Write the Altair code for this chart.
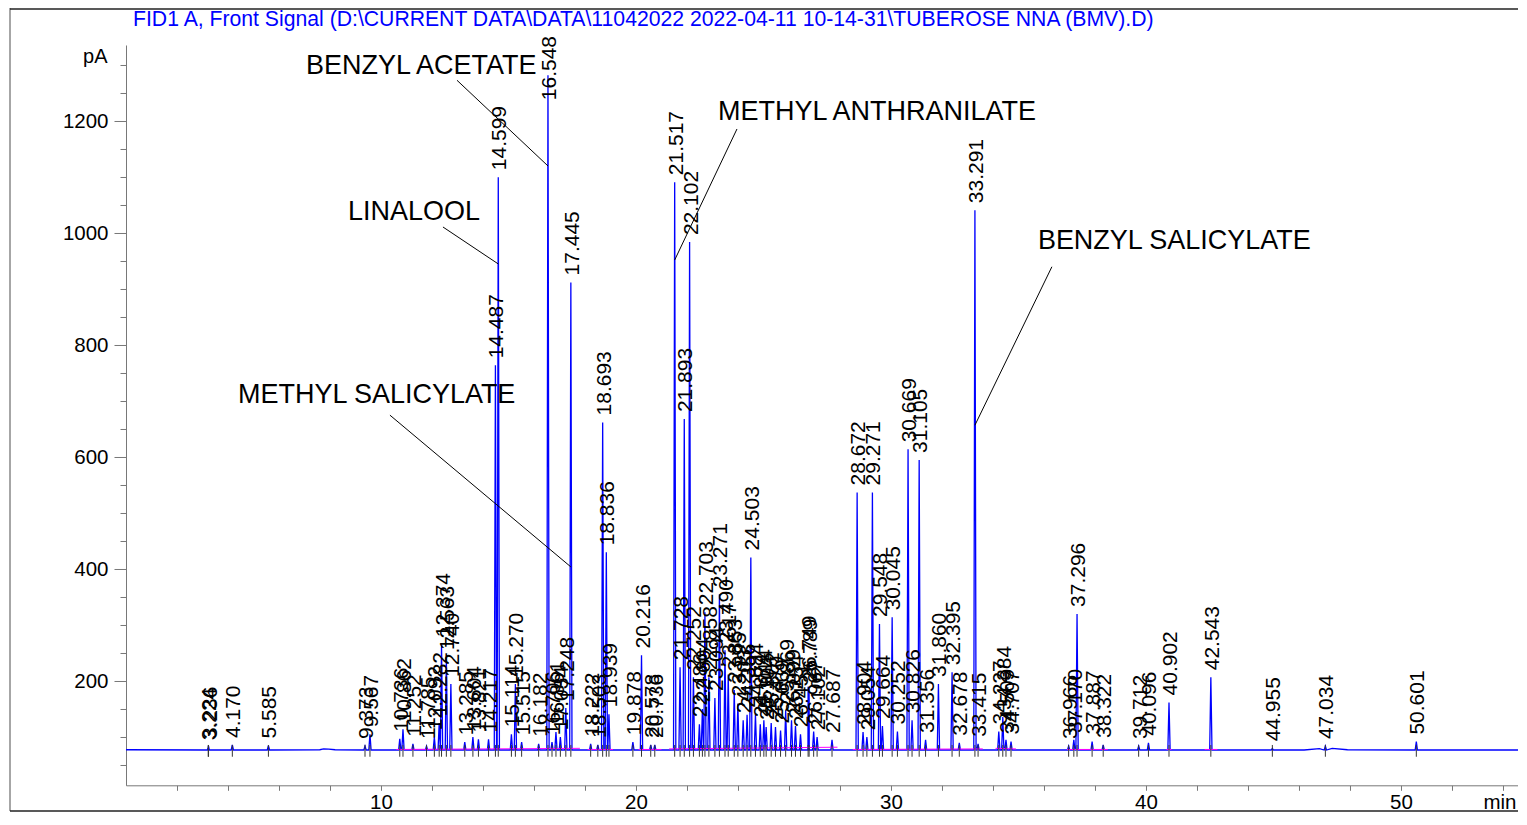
import altair as alt
import pandas as pd

FONT = "Liberation Sans"

TITLE = r"FID1 A, Front Signal (D:\CURRENT DATA\DATA\11042022 2022-04-11 10-14-31\TUBEROSE NNA (BMV).D)"

# retention times (min) of the labelled peaks
peak_rt = [
    3.224, 3.236, 4.170, 5.585, 9.373, 9.567,
    10.736, 10.862, 11.252, 11.785, 12.092, 12.282, 12.374, 12.563, 12.740,
    13.285, 13.604, 13.821, 14.217, 14.487, 14.599,
    15.114, 15.270, 15.515, 16.182, 16.548, 16.706, 16.861, 17.034, 17.248, 17.445,
    18.222, 18.503, 18.693, 18.836, 18.939, 19.878, 20.216, 20.578, 20.736,
    21.517, 21.728, 21.893, 22.102, 22.252, 22.486, 22.604, 22.703, 22.858,
    23.094, 23.271, 23.490, 23.617, 23.853, 23.995, 24.203, 24.356, 24.503,
    24.684, 24.874, 25.014, 25.104, 25.302, 25.470, 25.669, 25.869, 26.099,
    26.254, 26.451, 26.749, 26.789, 26.967, 27.102, 27.687,
    28.672, 28.904, 29.054, 29.271, 29.548, 29.664, 30.045, 30.252, 30.669,
    30.826, 31.105, 31.356, 31.860, 32.395, 32.678, 33.291, 33.415,
    34.227, 34.384, 34.509, 34.707, 36.966, 37.170, 37.296, 37.887, 38.322,
    39.712, 40.096, 40.902, 42.543, 44.955, 47.034, 50.601,
]
# apex signal (pA) of each peak
peak_pa = [
    82, 84, 86, 85, 84, 105,
    97, 114, 88, 84, 100, 125, 266, 243, 195,
    91, 100, 96, 96, 764, 1100,
    105, 195, 91, 88, 1282, 91, 109, 100, 152, 912,
    88, 86, 662, 430, 141, 91, 246, 86, 86,
    1091, 225, 668, 984, 207, 123, 150, 323, 207,
    170, 355, 255, 212, 184, 160, 130, 140, 421,
    141, 123, 130, 118, 125, 118, 112, 148, 130,
    120, 105, 190, 184, 110, 100, 95,
    537, 109, 100, 537, 302, 120, 314, 110, 614,
    130, 595, 95, 195, 216, 90, 1041, 88,
    110, 136, 95, 92, 84, 95, 320, 92, 86,
    84, 90, 162, 207, 80, 84, 92,
]

# baseline of the signal between peaks
baseline_rt = [0.0, 7.6, 7.75, 7.95, 8.2, 46.2, 46.8, 47.3, 47.9, 54.6]
baseline_pa = [77.5, 77.5, 79.0, 78.5, 77.5, 77.0, 79.5, 80.0, 77.5, 77.0]
BASE_PA = 77
PEAK_HALF_WIDTH = 0.045

# integration baselines (magenta) under peak clusters
integ_start_rt = [10.6, 14.35, 18.1, 20.1, 21.3, 28.5, 34.1, 36.9, 40.8, 42.3]
integ_end_rt = [14.35, 17.8, 19.1, 21.0, 27.9, 33.6, 34.9, 38.5, 41.0, 42.8]
integ_start_pa = [78, 79, 78, 78, 79, 78, 80, 78, 78, 78]
integ_end_pa = [79, 80, 78, 78, 82, 79, 79, 78, 78, 78]

# compound annotations
compound_names = ["BENZYL ACETATE", "LINALOOL", "METHYL SALICYLATE",
                  "METHYL ANTHRANILATE", "BENZYL SALICYLATE"]
compound_rt = [7.06, 8.71, 4.39, 23.22, 35.76]
compound_pa = [1298, 1038, 711, 1216, 986]
leader_from_rt = [12.98, 12.43, 10.35, 23.96, 36.31]
leader_from_pa = [1273, 1011, 675, 1186, 940]
leader_to_rt = [16.548, 14.599, 17.445, 21.517, 33.291]
leader_to_pa = [1120, 945, 404, 952, 657]

# ---- tables ----
rows = [(t, v) for t, v in zip(baseline_rt, baseline_pa)]
for t, h in zip(peak_rt, peak_pa):
    rows += [(t - PEAK_HALF_WIDTH, BASE_PA), (t, h), (t + PEAK_HALF_WIDTH, BASE_PA)]
trace = pd.DataFrame(rows, columns=["t", "v"]).sort_values("t")

peaks = pd.DataFrame({"t": peak_rt, "h": peak_pa,
                      "label": [f"{t:.3f}" for t in peak_rt]})
integ = pd.DataFrame({"t": integ_start_rt, "t2": integ_end_rt,
                      "v": integ_start_pa, "v2": integ_end_pa})
compounds = pd.DataFrame({"t": compound_rt, "v": compound_pa, "name": compound_names})
leaders = pd.DataFrame({"t": leader_from_rt, "v": leader_from_pa,
                        "t2": leader_to_rt, "v2": leader_to_pa})

X_MAX = 54.6
xs = alt.Scale(domain=[0, X_MAX], nice=False, zero=False)
ys = alt.Scale(domain=[14, 1336], nice=False, zero=False)

x_axis = alt.Axis(
    values=list(range(2, 55, 2)), format="d",
    labelExpr="datum.value % 10 == 0 ? datum.label : ''",
    tickSize=5, labelPadding=2, labelFont=FONT, labelFontSize=20.5,
    labelColor="black", domainColor="#777777", tickColor="#777777",
    grid=False, labelOverlap=False, labelFlush=False,
    title="min", titleX=1357, titleY=17, titleAlign="left",
    titleBaseline="middle", titleFont=FONT, titleFontSize=20.5,
    titleFontWeight="normal", titleColor="black",
)
y_axis = alt.Axis(
    values=list(range(50, 1301, 50)), format="d",
    labelExpr="datum.value % 200 == 0 ? datum.label : ''",
    tickSize={"condition": {"test": "datum.value % 200 == 0", "value": 12}, "value": 6},
    labelPadding=6, labelFont=FONT, labelFontSize=20.5, labelColor="black",
    domainColor="#777777", tickColor="#777777", grid=False, labelOverlap=False,
    title="pA", titleAngle=0, titleX=-19, titleY=12, titleAlign="right",
    titleBaseline="middle", titleFont=FONT, titleFontSize=20,
    titleFontWeight="normal", titleColor="black",
)


def X(field):
    return alt.X(field, scale=xs, axis=x_axis)


def Y(field):
    return alt.Y(field, scale=ys, axis=y_axis)


line = alt.Chart(trace).mark_line(color="#0000ff", strokeWidth=1.3).encode(
    x=X("t:Q"), y=Y("v:Q"),
)

integ_lines = alt.Chart(integ).mark_rule(color="#ff00ff", strokeWidth=1).encode(
    x=X("t:Q"), y=Y("v:Q"), x2="t2:Q", y2="v2:Q",
)

ticks = alt.Chart(peaks).transform_calculate(lo="65", hi="86").mark_rule(
    color="#333333", strokeWidth=1
).encode(x=X("t:Q"), y=Y("lo:Q"), y2="hi:Q")

labels = alt.Chart(peaks).transform_calculate(v="min(datum.h, 1225)").mark_text(
    angle=270, align="left", baseline="middle", dx=7, dy=2,
    font=FONT, fontSize=21, color="black",
).encode(x=X("t:Q"), y=Y("v:Q"), text="label:N")

comp_text = alt.Chart(compounds).mark_text(
    align="left", baseline="middle", font=FONT, fontSize=27, color="black"
).encode(x=X("t:Q"), y=Y("v:Q"), text="name:N")

comp_lines = alt.Chart(leaders).mark_rule(color="black", strokeWidth=1).encode(
    x=X("t:Q"), y=Y("v:Q"), x2="t2:Q", y2="v2:Q",
)

title = alt.Chart(pd.DataFrame({"s": [TITLE]})).mark_text(
    align="left", baseline="middle", font=FONT, fontSize=21.2, color="#0000ff"
).encode(x=alt.value(7), y=alt.value(-25), text="s:N")

one = pd.DataFrame({"a": [0]})
frame_left = alt.Chart(one).mark_rule(color="#888888", strokeWidth=1.5).encode(
    x=alt.value(-116), y=alt.value(-37), y2=alt.value(766))
frame_top = alt.Chart(one).mark_rule(color="#222222", strokeWidth=1.5).encode(
    x=alt.value(-116), x2=alt.value(1440), y=alt.value(-36))
frame_bottom = alt.Chart(one).mark_rule(color="#222222", strokeWidth=1.5).encode(
    x=alt.value(-116), x2=alt.value(1440), y=alt.value(766))

chart = alt.layer(
    line, integ_lines, ticks, labels, comp_lines, comp_text, title,
    frame_left, frame_top, frame_bottom,
).properties(
    width=X_MAX * 25.5, height=740.3,
    autosize=alt.AutoSizeParams(type="none"),
    padding={"left": 118, "top": 37, "right": 0, "bottom": 26.5},
).configure_view(stroke=None)

chart.save("out.html", embed_options={"renderer": "svg", "actions": False})
